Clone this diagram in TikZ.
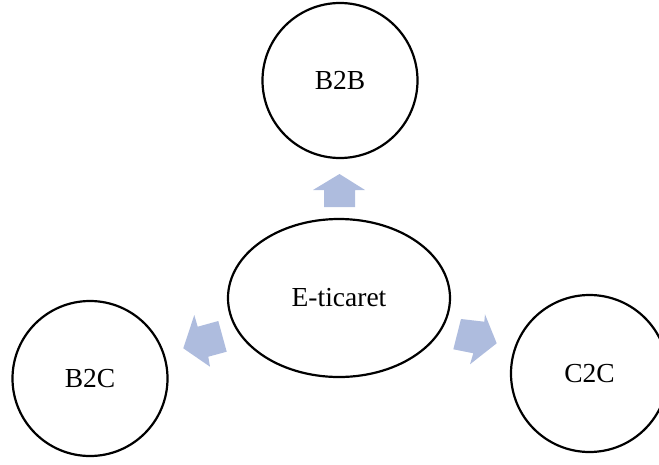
\documentclass[tikz,border=0pt]{standalone}
\usepackage{fontspec}
\setmainfont{Liberation Serif}
\usetikzlibrary{shapes.geometric}
\definecolor{arrowfill}{RGB}{174,188,222}
\begin{document}
\begin{tikzpicture}[x=1pt,y=-1pt,
  label font/.style={font=\fontsize{27.5}{30}\selectfont},
  bubble/.style={draw=black,line width=2.2pt,circle,minimum size=155pt,inner sep=0pt,label font},
  hub/.style={draw=black,line width=2.2pt,ellipse,minimum width=222pt,minimum height=158pt,inner sep=0pt,label font},
  blockarrow/.style={fill=arrowfill,draw=none}]
\useasboundingbox (0,0) rectangle (659,464);
\begin{scope}
\clip (0,0) rectangle (659,464);
\node[hub] (center) at (339,298) {E-ticaret};
\node[bubble] (b2b) at (340,80.5) {B2B};
\node[bubble] (b2c) at (90,378.5) {B2C};
\node[bubble,minimum size=157pt] (c2c) at (589.5,373.5) {C2C};
\end{scope}
% block arrows from the hub towards each model
\fill[blockarrow] (324,207) -- (355,207) -- (355,190) -- (365,190) -- (339.5,174) -- (313,190) -- (324,190) -- cycle;
\fill[blockarrow] (226.7,351.7) -- (208.3,356.7) -- (210,366.7) -- (183.3,348.3) -- (194.3,315) -- (197.7,326.7) -- (218.3,321) -- cycle;
\fill[blockarrow] (453.3,349.3) -- (461,319) -- (484.3,321.7) -- (485,314.3) -- (496.7,343.3) -- (470,364.3) -- (473.3,353.3) -- cycle;
\end{tikzpicture}
\end{document}
